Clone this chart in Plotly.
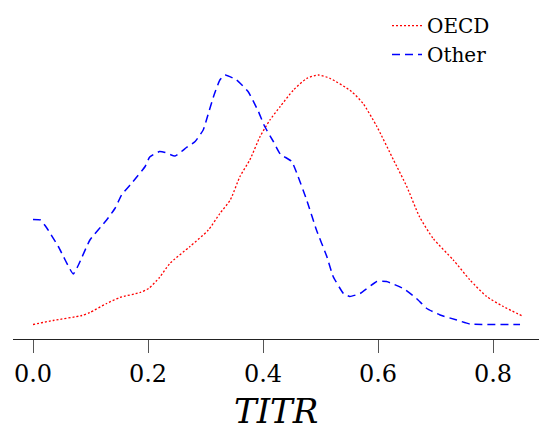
import plotly.graph_objects as go

# OECD density (x = TITR, y = density)
oecd_x = [0.000, 0.035, 0.085, 0.099, 0.128, 0.151, 0.186, 0.201, 0.220, 0.238,
          0.273, 0.305, 0.325, 0.343, 0.360, 0.377, 0.395, 0.412, 0.430, 0.453,
          0.476, 0.496, 0.517, 0.554, 0.574, 0.598, 0.627, 0.650, 0.672, 0.696,
          0.731, 0.760, 0.789, 0.818, 0.853]
oecd_y = [0.00, 0.04, 0.09, 0.12, 0.21, 0.27, 0.32, 0.36, 0.47, 0.61,
          0.78, 0.945, 1.11, 1.245, 1.48, 1.645, 1.88, 2.045, 2.18, 2.345,
          2.46, 2.495, 2.46, 2.33, 2.21, 1.98, 1.645, 1.38, 1.08, 0.86,
          0.645, 0.445, 0.28, 0.18, 0.08]

# Other density
other_x = [0.000, 0.013, 0.024, 0.044, 0.070, 0.079, 0.099, 0.128, 0.143, 0.154,
           0.174, 0.195, 0.203, 0.220, 0.230, 0.247, 0.267, 0.282, 0.296, 0.305,
           0.314, 0.325, 0.334, 0.354, 0.374, 0.392, 0.403, 0.418, 0.430, 0.450,
           0.461, 0.476, 0.493, 0.511, 0.522, 0.540, 0.551, 0.569, 0.598, 0.615,
           0.644, 0.667, 0.685, 0.708, 0.737, 0.760, 0.847]
other_y = [1.05, 1.045, 0.965, 0.78, 0.505, 0.595, 0.845, 1.045, 1.165, 1.295,
           1.43, 1.58, 1.675, 1.73, 1.72, 1.685, 1.77, 1.83, 1.945, 2.11,
           2.28, 2.445, 2.495, 2.445, 2.33, 2.13, 1.98, 1.83, 1.705, 1.63,
           1.48, 1.245, 0.945, 0.68, 0.48, 0.31, 0.28, 0.31, 0.43, 0.43,
           0.36, 0.26, 0.16, 0.095, 0.045, 0.005, 0.0]

tick_vals = [0.0, 0.2, 0.4, 0.6, 0.8]
tick_text = ["0.0", "0.2", "0.4", "0.6", "0.8"]
x_title = "TITR"

SERIF = "DejaVu Serif"

fig = go.Figure()
fig.add_trace(go.Scatter(x=oecd_x, y=oecd_y, mode="lines", name="OECD",
                         line=dict(color="#ff0000", width=1.3, dash="2px,2px",
                                   shape="spline", smoothing=0.6)))
fig.add_trace(go.Scatter(x=other_x, y=other_y, mode="lines", name="Other",
                         line=dict(color="#0000ff", width=1.5, dash="8px,5px",
                                   shape="spline", smoothing=0.4)))

fig.update_layout(
    width=539, height=430,
    margin=dict(l=13, r=0, t=10, b=91),
    paper_bgcolor="white", plot_bgcolor="white",
    font=dict(family=SERIF, color="black"),
    showlegend=True,
    legend=dict(x=(387 - 13) / 526, xanchor="left", y=1.012, yanchor="top",
                bgcolor="rgba(0,0,0,0)", borderwidth=0,
                font=dict(family=SERIF, size=20, color="black"),
                tracegroupgap=0),
    xaxis=dict(range=[-0.03478, 0.88], tickmode="array", tickvals=tick_vals,
               ticktext=tick_text, showgrid=False, zeroline=False,
               showline=True, linecolor="#222", linewidth=1.3,
               ticks="outside", ticklen=13, tickwidth=1, tickcolor="#555",
               tickfont=dict(family=SERIF, size=24, color="black")),
    yaxis=dict(range=[-0.145, 3.145], visible=False, showgrid=False, zeroline=False),
    annotations=[dict(text="<i>" + x_title + "</i>", xref="paper", yref="paper",
                      x=0.5, y=(339 - 411) / 329, xanchor="center", yanchor="middle",
                      showarrow=False,
                      font=dict(family=SERIF, size=34, color="black"))],
)

fig.write_html("out.html")
